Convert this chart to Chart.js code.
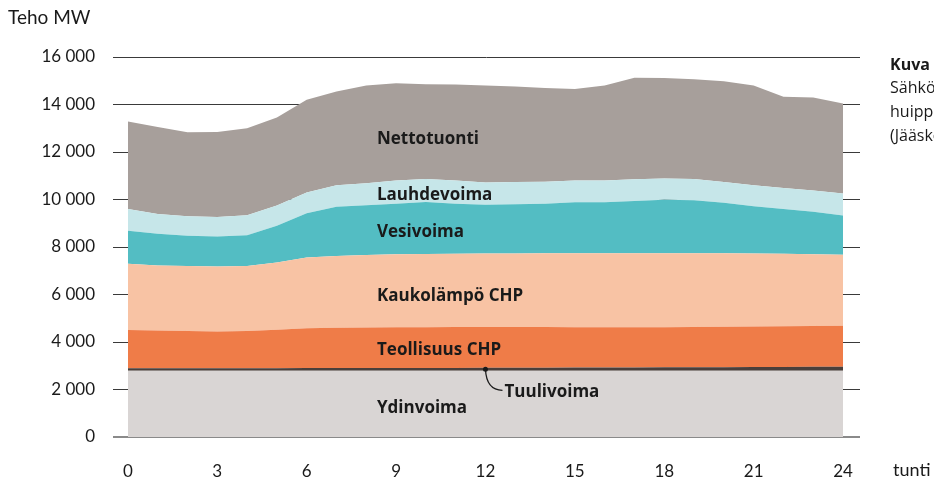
<!DOCTYPE html>
<html>
<head>
<meta charset="utf-8">
<script src="https://cdn.jsdelivr.net/npm/chart.js@4/dist/chart.umd.min.js"></script>
<style>
  html, body { margin: 0; padding: 0; background: #fff; }
  #wrap { width: 934px; height: 478px; }
</style>
</head>
<body>
<div id="wrap"><canvas id="areaChart"></canvas></div>
<script>
// tunnit 0-24
var hours = [0,1,2,3,4,5,6,7,8,9,10,11,12,13,14,15,16,17,18,19,20,21,22,23,24];
var xTicks = [0,3,6,9,12,15,18,21,24];

// teho MW, luettu kuvasta
var ydinvoima   = [2790,2790,2790,2790,2790,2790,2790,2790,2790,2790,2790,2790,2790,2790,2790,2790,2790,2790,2790,2790,2790,2790,2790,2790,2790];
var tuulivoima  = [110,110,110,110,110,110,120,120,120,120,120,120,130,130,130,140,140,140,150,150,150,160,160,170,170];
var teollisuus  = [1610,1580,1560,1540,1560,1620,1670,1690,1700,1710,1710,1720,1710,1710,1710,1690,1690,1690,1680,1690,1700,1700,1710,1710,1720];
var kaukolampo  = [2780,2740,2740,2740,2740,2830,2980,3020,3050,3070,3090,3090,3100,3100,3110,3120,3120,3120,3120,3110,3100,3080,3060,3030,2990];
var vesivoima   = [1390,1340,1270,1260,1300,1550,1860,2080,2100,2130,2190,2100,2050,2070,2080,2140,2140,2200,2250,2230,2120,1990,1880,1780,1660];
var lauhdevoima = [920,830,820,820,840,850,880,900,920,980,960,980,940,940,930,920,920,910,890,890,880,880,880,900,920];
var nettotuonti = [3680,3660,3540,3580,3660,3700,3900,3950,4120,4100,3990,4040,4080,4020,3950,3850,4000,4280,4240,4200,4240,4200,3850,3920,3790];

var FONT = '"Open Sans", Lato, sans-serif';
var TICKFONT = 'Lato, "Open Sans", sans-serif';

function pts(arr) {
    return arr.map(function (v, i) { return { x: hours[i], y: v }; });
}

function layer(label, arr, color, fill) {
    return {
        label: label,
        data: pts(arr),
        backgroundColor: color,
        borderColor: color,
        borderWidth: 0,
        pointRadius: 0,
        tension: 0,
        fill: fill
    };
}

// tekstit ja selitteet
var textPlugin = {
    id: 'texts',
    afterDatasetsDraw: function (chart) {
        var c = chart.ctx;
        var xs = chart.scales.x, ys = chart.scales.y;
        c.save();
        c.fillStyle = '#1a1a1a';
        c.textBaseline = 'middle';
        c.textAlign = 'left';

        c.font = '19px ' + TICKFONT;
        c.fillText('Teho MW', 8, 18);
        c.font = '18px ' + TICKFONT;
        c.fillText('tunti', 893, 470);

        c.font = 'bold 16px ' + FONT;
        c.fillText('Kuva 3.', 890, 65);
        c.font = '16px ' + FONT;
        c.fillText('Sähkön tuotanto', 890, 88);
        c.fillText('huippukulutuspäivänä', 890, 112);
        c.fillText('(Jääskeläinen 2016)', 890, 136);

        var lx = xs.getPixelForValue(8.36);
        c.font = 'bold 17px ' + FONT;
        c.fillText('Nettotuonti', lx, ys.getPixelForValue(12540));
        c.fillText('Lauhdevoima', lx, ys.getPixelForValue(10190));
        c.fillText('Vesivoima', lx, ys.getPixelForValue(8610));
        c.fillText('Kaukolämpö CHP', lx, ys.getPixelForValue(5930));
        c.fillText('Teollisuus CHP', lx, ys.getPixelForValue(3670));
        c.fillText('Ydinvoima', lx, ys.getPixelForValue(1220));

        // Tuulivoima nuoli
        var dx = xs.getPixelForValue(12), dy = ys.getPixelForValue(2850);
        c.beginPath();
        c.arc(dx, dy, 2.5, 0, Math.PI * 2);
        c.fill();
        c.strokeStyle = '#1a1a1a';
        c.lineWidth = 1.3;
        c.beginPath();
        c.moveTo(dx, dy);
        c.quadraticCurveTo(dx + 1, dy + 21, dx + 17, dy + 21);
        c.stroke();
        c.fillText('Tuulivoima', dx + 19, dy + 23);
        c.restore();
    }
};

var ctx = document.getElementById('areaChart').getContext('2d');
var myChart = new Chart(ctx, {
    type: 'line',
    data: {
        datasets: [
            layer('Ydinvoima', ydinvoima, '#d9d5d4', 'origin'),
            layer('Tuulivoima', tuulivoima, '#4a3f3b', '-1'),
            layer('Teollisuus CHP', teollisuus, '#ef7c48', '-1'),
            layer('Kaukolämpö CHP', kaukolampo, '#f8c3a4', '-1'),
            layer('Vesivoima', vesivoima, '#53bdc3', '-1'),
            layer('Lauhdevoima', lauhdevoima, '#c6e6e9', '-1'),
            layer('Nettotuonti', nettotuonti, '#a79f9b', '-1')
        ]
    },
    options: {
        responsive: true,
        maintainAspectRatio: false,
        animation: false,
        layout: { padding: { top: 57, right: 74, left: 0, bottom: 0 } },
        plugins: {
            legend: { display: false },
            tooltip: { enabled: false }
        },
        scales: {
            x: {
                type: 'linear',
                min: -0.5,
                max: 24.57,
                grid: { display: false, drawTicks: false },
                border: { display: false },
                afterBuildTicks: function (scale) {
                    scale.ticks = xTicks.map(function (v) { return { value: v }; });
                },
                afterFit: function (scale) { scale.height = 41; },
                ticks: {
                    padding: 24,
                    color: '#1a1a1a',
                    font: { family: TICKFONT, size: 17 },
                    maxRotation: 0,
                    autoSkip: false
                }
            },
            y: {
                stacked: true,
                min: 0,
                max: 16000,
                border: { display: false },
                grid: {
                    drawTicks: false,
                    color: function (c) { return c.tick && c.tick.value === 0 ? '#8a8a8a' : '#3a3a3a'; },
                    lineWidth: function (c) { return c.tick && c.tick.value === 0 ? 2 : 1; }
                },
                afterFit: function (scale) { scale.width = 113; },
                ticks: {
                    stepSize: 2000,
                    padding: 18,
                    color: '#1a1a1a',
                    font: { family: TICKFONT, size: 17 },
                    callback: function (v) {
                        return v >= 1000 ? Math.floor(v / 1000) + '\u202F000' : String(v);
                    }
                }
            }
        }
    },
    plugins: [textPlugin]
});
</script>
</body>
</html>
